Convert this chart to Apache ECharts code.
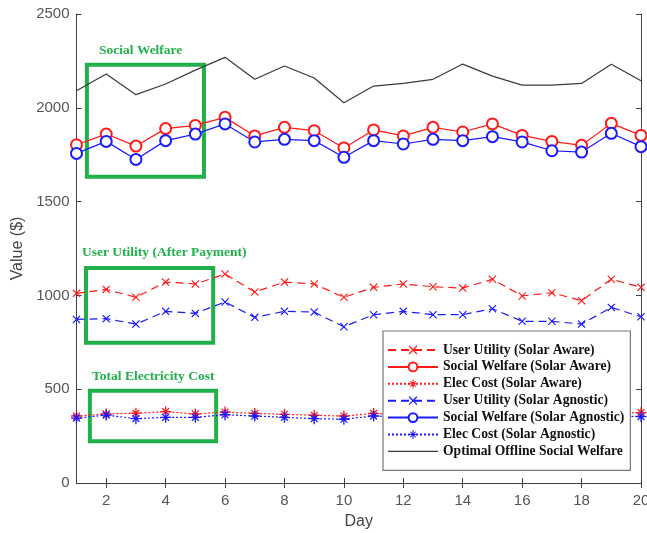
<!DOCTYPE html>
<html>
<head>
<meta charset="utf-8">
<script src="https://cdn.jsdelivr.net/npm/echarts@6/dist/echarts.min.js"></script>
<style>
  html, body { margin: 0; padding: 0; background: #fff; }
  #chart { width: 647px; height: 533px; }
</style>
</head>
<body>
<div id="chart"></div>
<script>
// data
const days = [1, 2, 3, 4, 5, 6, 7, 8, 9, 10, 11, 12, 13, 14, 15, 16, 17, 18, 19, 20];
const dayTicks = [2, 4, 6, 8, 10, 12, 14, 16, 18, 20];
const uuAware = [1011, 1032, 990, 1071, 1061, 1114, 1018, 1071, 1061, 990, 1043, 1061, 1046, 1039, 1086, 997, 1014, 972, 1086, 1043];
const swAware = [1803, 1860, 1796, 1889, 1906, 1949, 1850, 1896, 1878, 1786, 1882, 1850, 1896, 1871, 1914, 1853, 1821, 1800, 1917, 1853];
const ecAware = [357, 368, 372, 380, 368, 378, 371, 366, 361, 357, 371, 366, 368, 364, 370, 362, 360, 358, 372, 375];
const uuAgnostic = [872, 876, 847, 915, 904, 965, 883, 915, 911, 833, 897, 915, 897, 897, 929, 862, 862, 847, 936, 886];
const swAgnostic = [1757, 1821, 1725, 1825, 1860, 1914, 1818, 1832, 1825, 1736, 1825, 1807, 1832, 1825, 1846, 1818, 1771, 1764, 1864, 1793];
const ecAgnostic = [346, 362, 343, 350, 350, 364, 357, 350, 343, 340, 357, 352, 354, 350, 356, 348, 346, 344, 358, 354];
const optimalSW = [2091, 2180, 2070, 2127, 2201, 2269, 2152, 2223, 2159, 2027, 2116, 2130, 2152, 2233, 2169, 2121, 2121, 2130, 2232, 2144];

// annotation boxes in data space [x0, y0, x1, y1]
const boxSW = [1.35, 2230, 5.29, 1633];
const boxUU = [1.32, 1146, 5.6, 748];
const boxEC = [1.45, 492, 5.7, 222];

const RED = '#ff1a1a';
const BLUE = '#1a1aff';
const GREEN = '#22b04b';
const AXIS = '#404040';

const xShape = 'path://M0,1L1,0L5,4L9,0L10,1L6,5L10,9L9,10L5,6L1,10L0,9L4,5Z';
const starShape = 'path://M4.4,0L5.6,0L5.6,4.4L10,4.4L10,5.6L5.6,5.6L5.6,10L4.4,10L4.4,5.6L0,5.6L0,4.4L4.4,4.4Z' +
  'M1.5,2.3L2.3,1.5L5,4.2L7.7,1.5L8.5,2.3L5.8,5L8.5,7.7L7.7,8.5L5,5.8L2.3,8.5L1.5,7.7L4.2,5Z';
const plainLine = 'path://M0,0L50,0L50,1.2L0,1.2Z';

const pair = (arr) => arr.map((v, i) => [days[i], v]);
const box = (b) => [[{ coord: [b[0], b[1]] }, { coord: [b[2], b[3]] }]];

const chart = echarts.init(document.getElementById('chart'));

const tickStyle = { inside: true, length: 5, lineStyle: { color: AXIS } };

const option = {
  animation: false,
  backgroundColor: '#fff',
  grid: { left: 76.5, right: 6, top: 14, bottom: 50, outerBoundsMode: 'none', containLabel: false },
  xAxis: [
    {
      type: 'value', min: 1, max: 20,
      name: 'Day', nameLocation: 'middle', nameGap: 31,
      nameTextStyle: { fontFamily: 'Liberation Sans', fontSize: 16, color: '#444' },
      axisLine: { lineStyle: { color: AXIS } },
      axisTick: Object.assign({ customValues: dayTicks }, tickStyle),
      axisLabel: { customValues: dayTicks, fontFamily: 'Liberation Sans', fontSize: 15, color: '#555', margin: 10 },
      splitLine: { show: false }
    },
    {
      type: 'value', min: 1, max: 20, position: 'top',
      axisLine: { lineStyle: { color: AXIS } },
      axisTick: Object.assign({ customValues: dayTicks }, tickStyle),
      axisLabel: { show: false },
      splitLine: { show: false }
    }
  ],
  yAxis: [
    {
      type: 'value', min: 0, max: 2500, interval: 500,
      name: 'Value ($)', nameLocation: 'middle', nameGap: 47,
      nameTextStyle: { fontFamily: 'Liberation Sans', fontSize: 16, color: '#444' },
      axisLine: { show: true, lineStyle: { color: AXIS } },
      axisTick: Object.assign({ show: true }, tickStyle),
      axisLabel: { fontFamily: 'Liberation Sans', fontSize: 15, color: '#555', margin: 7, formatter: (v) => String(v) },
      splitLine: { show: false }
    },
    {
      type: 'value', min: 0, max: 2500, interval: 500, position: 'right',
      axisLine: { show: true, lineStyle: { color: AXIS } },
      axisTick: Object.assign({ show: true }, tickStyle),
      axisLabel: { show: false },
      splitLine: { show: false }
    }
  ],
  legend: {
    orient: 'vertical',
    left: 383, top: 331,
    padding: [12, 6, 12, 4],
    itemWidth: 50, itemHeight: 11, itemGap: 2.9,
    backgroundColor: '#fff',
    borderColor: '#777', borderWidth: 1.2,
    textStyle: { fontFamily: 'Liberation Serif', fontWeight: 'bold', fontSize: 13.6, color: '#111' },
    data: ['User Utility (Solar Aware)', 'Social Welfare (Solar Aware)', 'Elec Cost (Solar Aware)',
      'User Utility (Solar Agnostic)', 'Social Welfare (Solar Agnostic)', 'Elec Cost (Solar Agnostic)',
      { name: 'Optimal Offline Social Welfare', icon: plainLine }],
    z: 10
  },
  series: [
    {
      name: 'User Utility (Solar Aware)', type: 'line', data: pair(uuAware),
      symbol: xShape, symbolSize: 8,
      lineStyle: { color: RED, width: 1.2, type: [8, 5] },
      itemStyle: { color: RED }
    },
    {
      name: 'Social Welfare (Solar Aware)', type: 'line', data: pair(swAware),
      symbol: 'emptyCircle', symbolSize: 11,
      lineStyle: { color: RED, width: 1.2 },
      itemStyle: { color: RED, borderColor: RED, borderWidth: 1.2 },
      markArea: {
        silent: true,
        itemStyle: { color: 'rgba(0,0,0,0)', borderColor: GREEN, borderWidth: 4 },
        data: box(boxSW).concat(box(boxUU), box(boxEC))
      }
    },
    {
      name: 'Elec Cost (Solar Aware)', type: 'line', data: pair(ecAware),
      symbol: starShape, symbolSize: 11,
      lineStyle: { color: RED, width: 1.2, type: [2, 2] },
      itemStyle: { color: RED }
    },
    {
      name: 'User Utility (Solar Agnostic)', type: 'line', data: pair(uuAgnostic),
      symbol: xShape, symbolSize: 8,
      lineStyle: { color: BLUE, width: 1.2, type: [8, 5] },
      itemStyle: { color: BLUE }
    },
    {
      name: 'Social Welfare (Solar Agnostic)', type: 'line', data: pair(swAgnostic),
      symbol: 'emptyCircle', symbolSize: 11,
      lineStyle: { color: BLUE, width: 1.2 },
      itemStyle: { color: BLUE, borderColor: BLUE, borderWidth: 1.2 }
    },
    {
      name: 'Elec Cost (Solar Agnostic)', type: 'line', data: pair(ecAgnostic),
      symbol: starShape, symbolSize: 11,
      lineStyle: { color: BLUE, width: 1.2, type: [2, 2] },
      itemStyle: { color: BLUE }
    },
    {
      name: 'Optimal Offline Social Welfare', type: 'line', data: pair(optimalSW),
      symbol: 'none',
      lineStyle: { color: '#3a3a3a', width: 1.2 },
      itemStyle: { color: '#3a3a3a' }
    }
  ],
  graphic: [
    { type: 'text', left: 99, top: 44,
      style: { text: 'Social Welfare', fill: GREEN, font: 'bold 13.5px "Liberation Serif"' } },
    { type: 'text', left: 82, top: 246,
      style: { text: 'User Utility (After Payment)', fill: GREEN, font: 'bold 13.5px "Liberation Serif"' } },
    { type: 'text', left: 92, top: 370,
      style: { text: 'Total Electricity Cost', fill: GREEN, font: 'bold 13.5px "Liberation Serif"' } }
  ]
};

chart.setOption(option);
</script>
</body>
</html>
